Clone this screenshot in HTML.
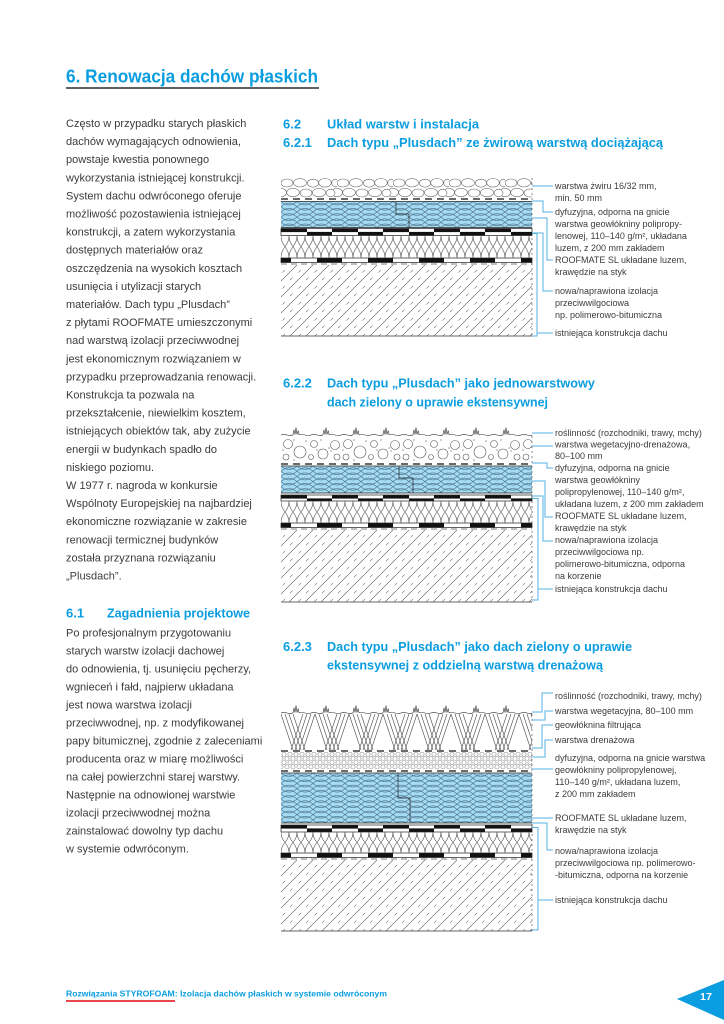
<!DOCTYPE html>
<html><head><meta charset="utf-8"><style>
html,body{margin:0;padding:0;background:#fff;width:724px;height:1024px;overflow:hidden}
svg{display:block}
text{font-family:"Liberation Sans",Arial,sans-serif}
.b{font-size:11px;fill:#3b3b3b}
.l{font-size:9px;fill:#3b3b3b}
.h{font-size:13px;font-weight:bold;fill:#0a9de0}
.ln{stroke:#55b2e6;stroke-width:1;fill:none}
.k{stroke:#222;stroke-width:.7;fill:none}
.dl{stroke:#111;stroke-width:1.3;stroke-dasharray:7 5}
.dg{stroke:#555;stroke-width:.8;stroke-dasharray:6 4}
.ve{stroke:#444;stroke-width:.6;stroke-dasharray:2 3}
</style></head><body>
<svg width="724" height="1024" viewBox="0 0 724 1024" xmlns="http://www.w3.org/2000/svg">
<defs>
<pattern id="gravel" patternUnits="userSpaceOnUse" width="56" height="19.5">
<g fill="#fff" stroke="#666" stroke-width=".6">
<ellipse cx="6" cy="5" rx="6" ry="4"/><ellipse cx="19" cy="4.8" rx="6.5" ry="4.2"/><ellipse cx="32" cy="5.2" rx="5.5" ry="4"/><ellipse cx="44" cy="4.8" rx="6.3" ry="4.3"/><ellipse cx="54.5" cy="5" rx="3.8" ry="3.8"/>
<ellipse cx="0" cy="14.5" rx="5.5" ry="4.2"/><ellipse cx="56" cy="14.5" rx="5.5" ry="4.2"/><ellipse cx="12" cy="14.5" rx="6.3" ry="4.3"/><ellipse cx="25" cy="15" rx="6" ry="4"/><ellipse cx="38" cy="14.5" rx="6.5" ry="4.2"/><ellipse cx="49.5" cy="15" rx="4.5" ry="3.8"/>
</g></pattern>
<pattern id="xps" patternUnits="userSpaceOnUse" width="16" height="5.2">
<rect width="16" height="5.2" fill="#a5dbf5"/>
<path d="M0 0 Q8 7 16 0 M0 5.2 Q8 -1.8 16 5.2" stroke="#3f6478" stroke-width=".55" fill="none"/>
</pattern>
<pattern id="mem" patternUnits="userSpaceOnUse" width="51" height="7">
<rect width="51" height="7" fill="#fff"/>
<rect x="0" y="0" width="26" height="3.6" fill="#111"/>
<rect x="26" y="3.4" width="25" height="3.6" fill="#111"/>
</pattern>
<pattern id="strip" patternUnits="userSpaceOnUse" width="51" height="4.5">
<rect width="51" height="4.5" fill="#fff"/>
<rect x="0" y="0" width="10" height="4.5" fill="#111"/>
<rect x="36" y="0" width="15" height="4.5" fill="#111"/>
</pattern>
<pattern id="ins1" patternUnits="userSpaceOnUse" width="8" height="22.5">
<path d="M0 0 C0 11.25 8 11.25 8 22.5 M8 0 C8 11.25 0 11.25 0 22.5" stroke="#555" stroke-width=".6" fill="none"/>
</pattern>
<pattern id="ins2" patternUnits="userSpaceOnUse" width="8" height="22">
<path d="M0 0 C0 11 8 11 8 22 M8 0 C8 11 0 11 0 22" stroke="#555" stroke-width=".6" fill="none"/>
</pattern>
<pattern id="ins3" patternUnits="userSpaceOnUse" width="8" height="21">
<path d="M0 0 C0 10.5 8 10.5 8 21 M8 0 C8 10.5 0 10.5 0 21" stroke="#555" stroke-width=".6" fill="none"/>
</pattern>
<pattern id="conc" patternUnits="userSpaceOnUse" width="16" height="16">
<path d="M0 16 L16 0 M-2 2 L2 -2 M14 18 L18 14" stroke="#555" stroke-width=".6" fill="none"/>
<path d="M9 15 L11.5 12.5 M1.5 7.5 L4 5" stroke="#777" stroke-width=".55" fill="none"/>
</pattern>
<pattern id="soil" patternUnits="userSpaceOnUse" width="60" height="26">
<g stroke="#555" stroke-width=".6" fill="none">
<circle cx="7" cy="8" r="4.5"/><circle cx="19" cy="16" r="6"/><circle cx="33" cy="8" r="3.5"/><circle cx="42" cy="18" r="5"/><circle cx="54" cy="9" r="4.5"/><circle cx="5" cy="21" r="3"/><circle cx="30" cy="21" r="2.5"/><circle cx="56" cy="21" r="3"/>
</g>
<g fill="#555"><circle cx="13" cy="4" r=".6"/><circle cx="25" cy="5" r=".6"/><circle cx="36" cy="14" r=".6"/><circle cx="48" cy="12" r=".6"/><circle cx="13" cy="24" r=".6"/><circle cx="2" cy="14" r=".6"/><circle cx="40" cy="4" r=".6"/><circle cx="50" cy="15" r=".6"/></g>
</pattern>
<pattern id="peb" patternUnits="userSpaceOnUse" width="12" height="8.5">
<g stroke="#666" stroke-width=".5" fill="none"><circle cx="3" cy="2.2" r="2.1"/><circle cx="9" cy="2.2" r="2.1"/><circle cx="0" cy="6.4" r="2.1"/><circle cx="6" cy="6.4" r="2.1"/><circle cx="12" cy="6.4" r="2.1"/></g>
</pattern>
<pattern id="herr" patternUnits="userSpaceOnUse" width="34" height="36">
<path d="M0 0 L12 36 M4 0 L16 36 M8 0 L20 36 M12 0 L24 36 M22 0 L10 36 M26 0 L14 36 M30 0 L18 36 M34 0 L22 36" stroke="#444" stroke-width=".6" fill="none"/>
</pattern>
<pattern id="grass" patternUnits="userSpaceOnUse" width="30" height="9">
<path d="M0 8 Q3 6.8 6 8 T12 7.8 l1 -5 l1 4.8 l1 -7 l1 7 l1.2 -4 l.8 4 Q21 7 24 8 T30 8" stroke="#333" stroke-width=".6" fill="none"/>
</pattern>
</defs>

<!-- Title -->
<text x="66" y="82.5" font-size="18" font-weight="bold" fill="#0a9de0" textLength="252" lengthAdjust="spacingAndGlyphs">6.  Renowacja dachów płaskich</text>
<line x1="66" y1="88" x2="319" y2="88" stroke="#000" stroke-width="1.2"/>

<!-- Left column -->
<g class="b">
<text x="66" y="127">Często w przypadku starych płaskich</text>
<text x="66" y="145.1">dachów wymagających odnowienia,</text>
<text x="66" y="163.2">powstaje kwestia ponownego</text>
<text x="66" y="181.3">wykorzystania istniejącej konstrukcji.</text>
<text x="66" y="199.4"> System dachu odwróconego oferuje</text>
<text x="66" y="217.5">możliwość pozostawienia istniejącej</text>
<text x="66" y="235.6">konstrukcji, a zatem wykorzystania</text>
<text x="66" y="253.7">dostępnych materiałów oraz</text>
<text x="66" y="271.8">oszczędzenia na wysokich kosztach</text>
<text x="66" y="289.9">usunięcia i utylizacji starych</text>
<text x="66" y="308">materiałów. Dach typu „Plusdach”</text>
<text x="66" y="326.1">z płytami ROOFMATE umieszczonymi</text>
<text x="66" y="344.2">nad warstwą izolacji przeciwwodnej</text>
<text x="66" y="362.3">jest ekonomicznym rozwiązaniem w</text>
<text x="66" y="380.4">przypadku przeprowadzania renowacji.</text>
<text x="66" y="398.5">Konstrukcja ta pozwala na</text>
<text x="66" y="416.6">przekształcenie, niewielkim kosztem,</text>
<text x="66" y="434.7">istniejących obiektów tak, aby zużycie</text>
<text x="66" y="452.8">energii w budynkach spadło do</text>
<text x="66" y="470.9">niskiego poziomu.</text>
<text x="66" y="489">W 1977 r. nagroda w konkursie</text>
<text x="66" y="507.1">Wspólnoty Europejskiej na najbardziej</text>
<text x="66" y="525.2">ekonomiczne rozwiązanie w zakresie</text>
<text x="66" y="543.3">renowacji termicznej budynków</text>
<text x="66" y="561.4">została przyznana rozwiązaniu</text>
<text x="66" y="579.5">„Plusdach”.</text>
</g>
<text class="h" x="66" y="617.5">6.1</text>
<text class="h" x="107" y="617.5" textLength="143" lengthAdjust="spacingAndGlyphs">Zagadnienia projektowe</text>
<g class="b">
<text x="66" y="636.5">Po profesjonalnym przygotowaniu</text>
<text x="66" y="654.5">starych warstw izolacji dachowej</text>
<text x="66" y="672.5">do odnowienia, tj. usunięciu pęcherzy,</text>
<text x="66" y="690.5">wgnieceń i fałd, najpierw układana</text>
<text x="66" y="708.5">jest nowa warstwa izolacji</text>
<text x="66" y="726.5">przeciwwodnej, np. z modyfikowanej</text>
<text x="66" y="744.5">papy bitumicznej, zgodnie z zaleceniami</text>
<text x="66" y="762.5">producenta oraz w miarę możliwości</text>
<text x="66" y="780.5">na całej powierzchni starej warstwy.</text>
<text x="66" y="798.5">Następnie na odnowionej warstwie</text>
<text x="66" y="816.5">izolacji przeciwwodnej można</text>
<text x="66" y="834.5">zainstalować dowolny typ dachu</text>
<text x="66" y="852.5">w systemie odwróconym.</text>
</g>

<!-- Right column headings -->
<text class="h" x="283" y="128.5">6.2</text>
<text class="h" x="327" y="128.5" textLength="152" lengthAdjust="spacingAndGlyphs">Układ warstw i instalacja</text>
<text class="h" x="283" y="147">6.2.1</text>
<text class="h" x="327" y="147" textLength="336" lengthAdjust="spacingAndGlyphs">Dach typu „Plusdach” ze żwirową warstwą dociążającą</text>
<text class="h" x="283" y="387.5">6.2.2</text>
<text class="h" x="327" y="387.5" textLength="268" lengthAdjust="spacingAndGlyphs">Dach typu „Plusdach” jako jednowarstwowy</text>
<text class="h" x="327" y="406.5" textLength="221" lengthAdjust="spacingAndGlyphs">dach zielony o uprawie ekstensywnej</text>
<text class="h" x="283" y="651">6.2.3</text>
<text class="h" x="327" y="651" textLength="305" lengthAdjust="spacingAndGlyphs">Dach typu „Plusdach” jako dach zielony o uprawie</text>
<text class="h" x="327" y="669.5" textLength="276" lengthAdjust="spacingAndGlyphs">ekstensywnej z oddzielną warstwą drenażową</text>

<!-- Diagram 1 -->
<g transform="translate(281,178)"><rect width="251" height="19.5" fill="url(#gravel)"/></g>
<line class="dl" x1="281" y1="199" x2="532" y2="199"/>
<g transform="translate(281,201.5)"><rect width="251" height="26" fill="url(#xps)"/></g>
<path class="k" d="M281 201.5 H532 M281 227.5 H532 M396 201.5 V214 H409 V227.5"/>
<g transform="translate(281,228.5)"><rect width="251" height="7" fill="url(#mem)"/></g>
<rect x="281" y="228.5" width="251" height="7" class="k"/>
<g transform="translate(281,235.5)"><rect width="251" height="22.5" fill="url(#ins1)"/></g>
<g transform="translate(281,258)"><rect width="251" height="4.5" fill="url(#strip)"/></g>
<rect x="281" y="258" width="251" height="4.5" class="k"/>
<line class="dg" x1="281" y1="264" x2="532" y2="264"/>
<g transform="translate(281,265)"><rect width="251" height="71" fill="url(#conc)"/></g>
<line x1="281" y1="336" x2="532" y2="336" stroke="#333" stroke-width=".8"/>
<line class="ve" x1="532" y1="178" x2="532" y2="336"/>
<g class="ln">
<path d="M532 186 H553"/>
<path d="M532 201 H543 V212 H553"/>
<path d="M532 218 H547 V260 H553"/>
<path d="M532 233 H543 V291 H553"/>
<path d="M532 233.5 H537 V336 H532 M537 333 H553"/>
</g>
<g class="l">
<text x="555" y="189">warstwa żwiru 16/32 mm,</text>
<text x="555" y="201">min. 50 mm</text>
<text x="555" y="215">dyfuzyjna, odporna na gnicie</text>
<text x="555" y="227">warstwa geowłókniny polipropy-</text>
<text x="555" y="239">lenowej, 110–140 g/m², układana</text>
<text x="555" y="251">luzem, z 200 mm zakładem</text>
<text x="555" y="263">ROOFMATE SL  układane luzem,</text>
<text x="555" y="275">krawędzie na styk</text>
<text x="555" y="294">nowa/naprawiona izolacja</text>
<text x="555" y="306">przeciwwilgociowa</text>
<text x="555" y="318">np. polimerowo-bitumiczna</text>
<text x="555" y="336">istniejąca konstrukcja dachu</text>
</g>

<!-- Diagram 2 -->
<g transform="translate(281,427)"><rect width="251" height="9" fill="url(#grass)"/></g>
<g transform="translate(281,436)"><rect width="251" height="26" fill="url(#soil)"/></g>
<line class="dl" x1="281" y1="464" x2="532" y2="464"/>
<g transform="translate(281,466)"><rect width="251" height="27" fill="url(#xps)"/></g>
<path class="k" d="M281 466 H532 M281 493 H532 M399 466 V478 H413 V493"/>
<g transform="translate(281,495)"><rect width="251" height="6" fill="url(#mem)"/></g>
<rect x="281" y="495" width="251" height="6" class="k"/>
<g transform="translate(281,501)"><rect width="251" height="22" fill="url(#ins2)"/></g>
<g transform="translate(281,523)"><rect width="251" height="4.5" fill="url(#strip)"/></g>
<rect x="281" y="523" width="251" height="4.5" class="k"/>
<line class="dg" x1="281" y1="529" x2="532" y2="529"/>
<g transform="translate(281,530)"><rect width="251" height="72" fill="url(#conc)"/></g>
<line x1="281" y1="602" x2="532" y2="602" stroke="#333" stroke-width=".8"/>
<line class="ve" x1="532" y1="436" x2="532" y2="602"/>
<g class="ln">
<path d="M532 433 H553"/>
<path d="M532 446 H553"/>
<path d="M532 463 H547 V468 H553"/>
<path d="M532 481 H545 V517 H553"/>
<path d="M532 496 H543 V541 H553"/>
<path d="M532 498.5 H538 V600 H532 M538 589 H553"/>
</g>
<g class="l">
<text x="555" y="436">roślinność (rozchodniki, trawy, mchy)</text>
<text x="555" y="447.5">warstwa wegetacyjno-drenażowa,</text>
<text x="555" y="459">80–100 mm</text>
<text x="555" y="471">dyfuzyjna, odporna na gnicie</text>
<text x="555" y="483">warstwa geowłókniny</text>
<text x="555" y="495">polipropylenowej, 110–140 g/m²,</text>
<text x="555" y="507">układana luzem, z 200 mm zakładem</text>
<text x="555" y="519">ROOFMATE SL układane luzem,</text>
<text x="555" y="531">krawędzie na styk</text>
<text x="555" y="543">nowa/naprawiona izolacja</text>
<text x="555" y="555">przeciwwilgociowa np.</text>
<text x="555" y="567">polimerowo-bitumiczna, odporna</text>
<text x="555" y="579">na korzenie</text>
<text x="555" y="592">istniejąca konstrukcja dachu</text>
</g>

<!-- Diagram 3 -->
<g transform="translate(281,705)"><rect width="251" height="9" fill="url(#grass)"/></g>
<g transform="translate(281,714)"><rect width="251" height="36" fill="url(#herr)"/></g>
<line class="dl" x1="281" y1="751" x2="532" y2="751"/>
<g transform="translate(281,752)"><rect width="251" height="17" fill="url(#peb)"/></g>
<line class="dl" x1="281" y1="771" x2="532" y2="771"/>
<g transform="translate(281,773)"><rect width="251" height="50" fill="url(#xps)"/></g>
<path class="k" d="M281 773 H532 M281 823 H532 M398 773 V798 H410 V823"/>
<g transform="translate(281,825)"><rect width="251" height="7" fill="url(#mem)"/></g>
<rect x="281" y="825" width="251" height="7" class="k"/>
<g transform="translate(281,832)"><rect width="251" height="21" fill="url(#ins3)"/></g>
<g transform="translate(281,853)"><rect width="251" height="4.5" fill="url(#strip)"/></g>
<rect x="281" y="853" width="251" height="4.5" class="k"/>
<line class="dg" x1="281" y1="859" x2="532" y2="859"/>
<g transform="translate(281,860)"><rect width="251" height="71" fill="url(#conc)"/></g>
<line x1="281" y1="931" x2="532" y2="931" stroke="#333" stroke-width=".8"/>
<line class="ve" x1="532" y1="714" x2="532" y2="931"/>
<g class="ln">
<path d="M532 712 H542 V693 H553"/>
<path d="M532 720 H545 V711 H553"/>
<path d="M532 748 H542 V725 H553"/>
<path d="M532 757 H545 V740 H553"/>
<path d="M532 769 H553"/>
<path d="M532 818 H553"/>
<path d="M532 823 H547 V850 H553"/>
<path d="M532 827.5 H538 V930 H532 M538 900 H553"/>
</g>
<g class="l">
<text x="555" y="699">roślinność (rozchodniki, trawy, mchy)</text>
<text x="555" y="714">warstwa wegetacyjna, 80–100 mm</text>
<text x="555" y="728">geowłóknina filtrująca</text>
<text x="555" y="743">warstwa drenażowa</text>
<text x="555" y="761">dyfuzyjna, odporna na gnicie warstwa</text>
<text x="555" y="773">geowłókniny polipropylenowej,</text>
<text x="555" y="785">110–140 g/m², układana luzem,</text>
<text x="555" y="797">z 200 mm zakładem</text>
<text x="555" y="821">ROOFMATE SL układane luzem,</text>
<text x="555" y="833">krawędzie na styk</text>
<text x="555" y="854">nowa/naprawiona izolacja</text>
<text x="555" y="866">przeciwwilgociowa np. polimerowo-</text>
<text x="555" y="878">-bitumiczna, odporna na korzenie</text>
<text x="555" y="903">istniejąca konstrukcja dachu</text>
</g>

<!-- Footer -->
<text x="66" y="996.5" font-size="8.5" font-weight="bold" fill="#0a9de0" textLength="321" lengthAdjust="spacingAndGlyphs">Rozwiązania STYROFOAM: Izolacja dachów płaskich w systemie odwróconym</text>
<line x1="66" y1="1001" x2="175" y2="1001" stroke="#e30613" stroke-width="1.5"/>
<polygon points="677,999 724,980 724,1020" fill="#0a9de0"/>
<text x="700" y="1000" font-size="10.5" font-weight="bold" fill="#fff" textLength="12" lengthAdjust="spacingAndGlyphs">17</text>
</svg>
</body></html>
